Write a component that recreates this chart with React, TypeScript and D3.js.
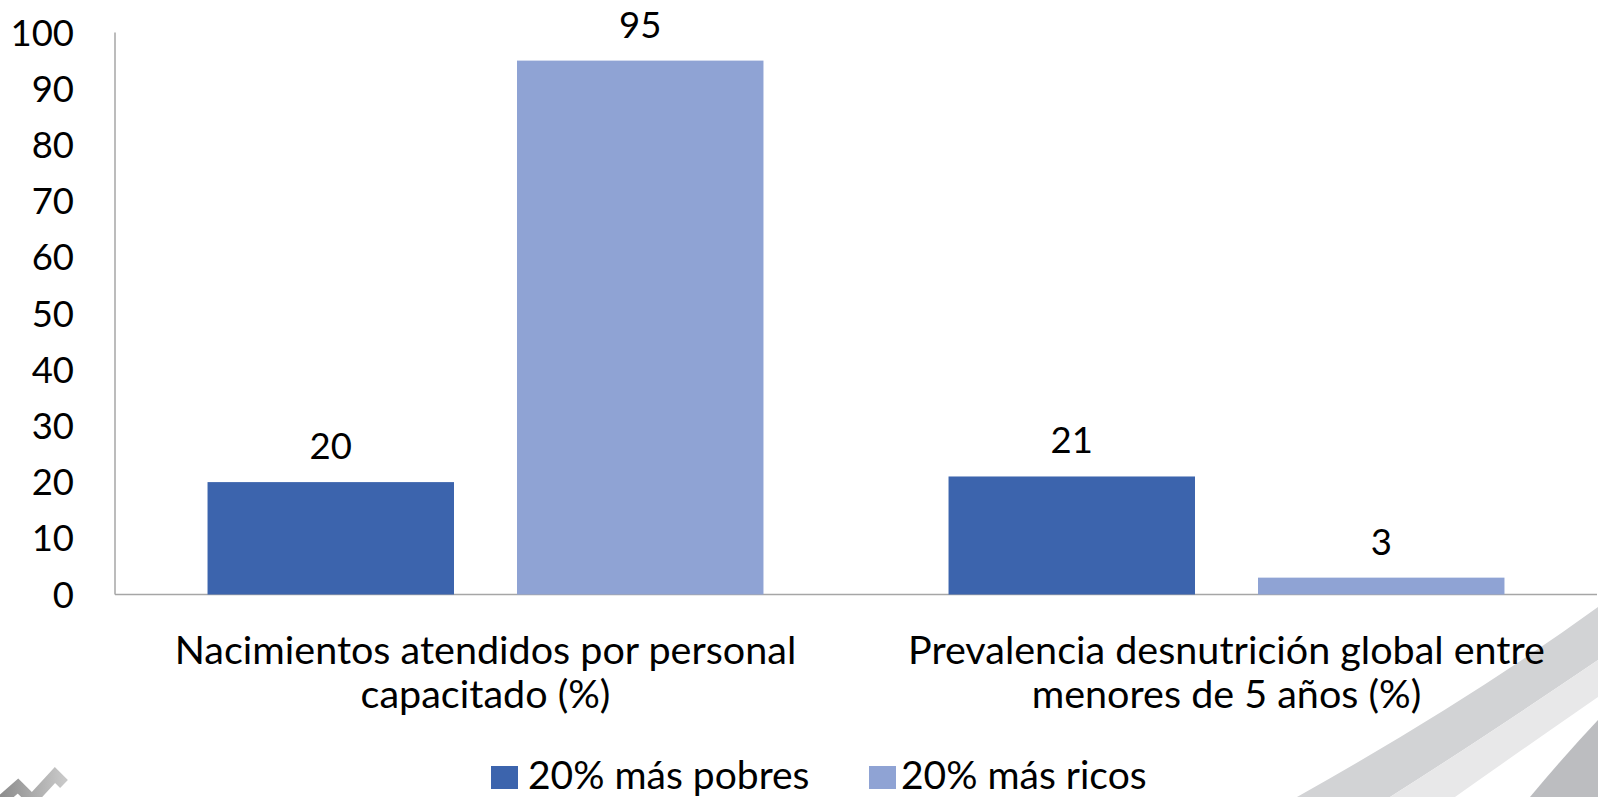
import React from "react";
import * as d3 from "d3";

const categories = [
  ["Nacimientos atendidos por personal", "capacitado (%)"],
  ["Prevalencia desnutrición global entre", "menores de 5 años (%)"],
];
const seriesNames = ["20% más pobres", "20% más ricos"];
const poorest = [20, 21];
const richest = [95, 3];
const yTicks = [0, 10, 20, 30, 40, 50, 60, 70, 80, 90, 100];
const colors = ["#3c64ad", "#8fa3d4"];

const W = 1598;
const H = 797;
const FONT = "Lato, 'Open Sans', sans-serif";

export default function App() {
  const x0 = 115;
  const x1 = 1597;
  const yBase = 594.5;
  const yTop = 32.5;
  const y = d3.scaleLinear().domain([0, 100]).range([yBase, yTop]);
  const xCat = d3.scaleBand<number>().domain([0, 1]).range([x0, x1]).padding(0);
  const xSer = d3
    .scaleBand<number>()
    .domain([0, 1])
    .range([0, xCat.bandwidth()])
    .paddingInner(0.2036)
    .paddingOuter(0.299);
  const series = [poorest, richest];

  return (
    <svg
      width={W}
      height={H}
      style={{ position: "absolute", left: 0, top: 0, background: "#fff" }}
      fontFamily={FONT}
    >
      {/* decorative swooshes bottom right */}
      <path d="M1297,797 Q1470,700 1598,607 L1598,660 Q1480,740 1390,797 Z" fill="#d2d3d5" />
      <path d="M1390,797 Q1480,740 1598,660 L1598,697 Q1500,765 1455,797 Z" fill="#e8e8e9" />
      <path d="M1530,797 Q1565,755 1598,720 L1598,797 Z" fill="#bcbdc0" />
      {/* decorative logo bottom left */}
      <defs>
        <linearGradient id="lg" x1="0" x2="1" y1="0" y2="0">
          <stop offset="0" stopColor="#8e8e8e" />
          <stop offset="1" stopColor="#c8c8c8" />
        </linearGradient>
      </defs>
      <polyline
        points="2,800 18,786 32,800 55,775 64,784"
        fill="none"
        stroke="url(#lg)"
        strokeWidth={11}
        strokeLinejoin="miter"
      />

      {/* axes */}
      <line x1={x0} x2={x0} y1={yTop} y2={yBase} stroke="#a6a6a6" strokeWidth={1.5} />
      <line x1={x0} x2={x1} y1={yBase} y2={yBase} stroke="#a6a6a6" strokeWidth={1.5} />

      {yTicks.map((t) => (
        <text key={t} x={74} y={y(t)} dy="0.36em" textAnchor="end" fontSize={36.5} fill="#000">
          {t}
        </text>
      ))}

      {categories.map((_, ci) =>
        series.map((s, si) => {
          const bx = (xCat(ci) as number) + (xSer(si) as number);
          const bw = xSer.bandwidth();
          return (
            <g key={`${ci}-${si}`}>
              <rect x={bx} y={y(s[ci])} width={bw} height={yBase - y(s[ci])} fill={colors[si]} />
              <text
                x={bx + bw / 2}
                y={y(s[ci]) - 23}
                textAnchor="middle"
                fontSize={36.5}
                fill="#000"
              >
                {s[ci]}
              </text>
            </g>
          );
        })
      )}

      {categories.map((lines, ci) => (
        <text
          key={ci}
          x={(xCat(ci) as number) + xCat.bandwidth() / 2}
          textAnchor="middle"
          fontSize={39.5}
          fill="#000"
        >
          {lines.map((l, li) => (
            <tspan key={li} x={(xCat(ci) as number) + xCat.bandwidth() / 2} y={664 + li * 44}>
              {l}
            </tspan>
          ))}
        </text>
      ))}

      {/* legend */}
      <rect x={491} y={766} width={27} height={23} fill={colors[0]} />
      <text x={528} y={789} fontSize={39} fill="#000">
        {seriesNames[0]}
      </text>
      <rect x={869} y={766} width={27} height={23} fill={colors[1]} />
      <text x={901} y={789} fontSize={39} fill="#000">
        {seriesNames[1]}
      </text>
    </svg>
  );
}
